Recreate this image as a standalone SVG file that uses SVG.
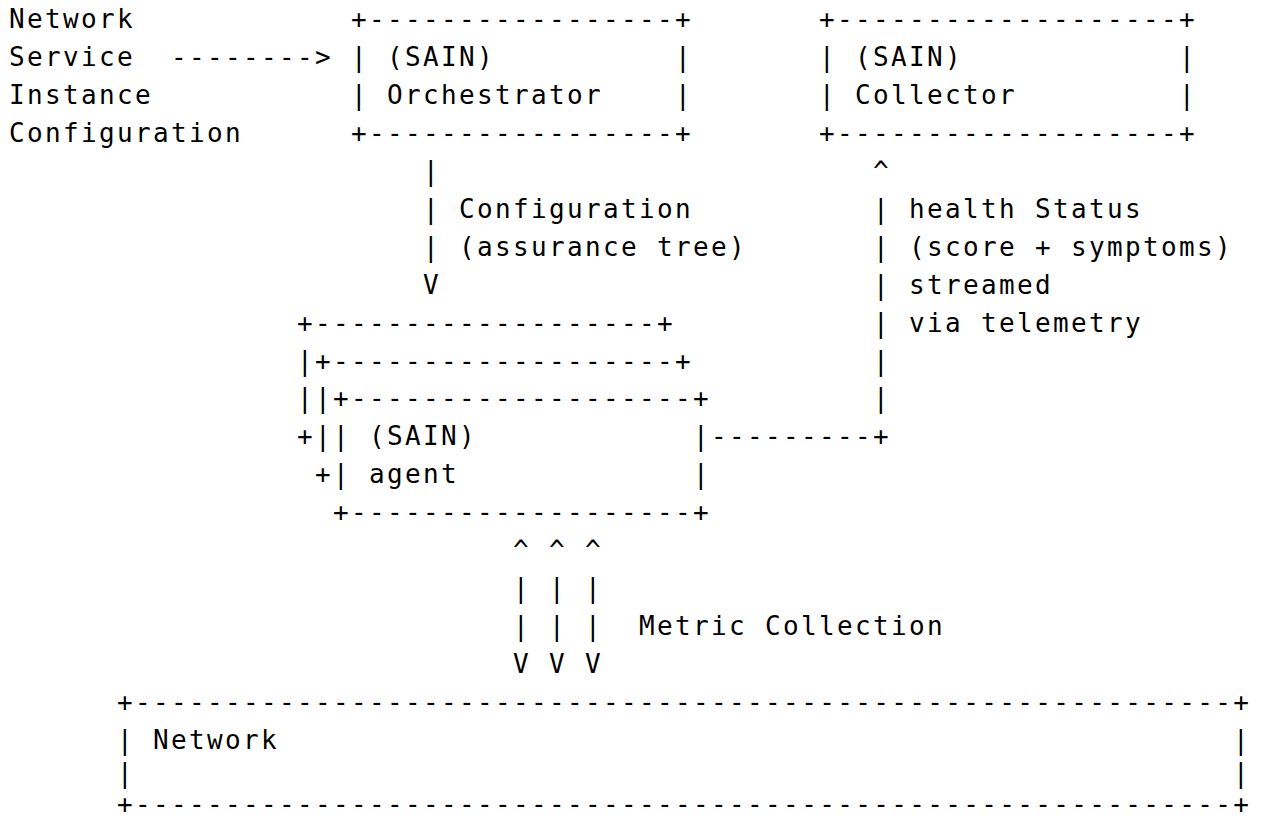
<svg xmlns="http://www.w3.org/2000/svg" width="1261" height="819" viewBox="0 0 1261 819">
<style>
text { font-family: "DejaVu Sans Mono", "Liberation Mono", monospace; font-size: 26px; letter-spacing: 2.35px; fill: #000; white-space: pre; }
</style>
<rect x="0" y="0" width="1261" height="819" fill="#fff"/>
<g transform="translate(1,0)">
<g id="service-config-input">
  <text x="8" y="28.4">Network</text>
  <text x="8" y="66.3">Service</text>
  <text x="8" y="104.2">Instance</text>
  <text x="8" y="142.1">Configuration</text>
</g>
<g id="orchestrator">
  <text x="350" y="28.4">+-----------------+</text>
  <text x="350" y="66.3">|</text><text x="386" y="66.3">(SAIN)</text><text x="674" y="66.3">|</text>
  <text x="350" y="104.2">|</text><text x="386" y="104.2">Orchestrator</text><text x="674" y="104.2">|</text>
  <text x="350" y="142.1">+-----------------+</text>
</g>
<g id="collector">
  <text x="818" y="28.4">+-------------------+</text>
  <text x="818" y="66.3">|</text><text x="854" y="66.3">(SAIN)</text><text x="1178" y="66.3">|</text>
  <text x="818" y="104.2">|</text><text x="854" y="104.2">Collector</text><text x="1178" y="104.2">|</text>
  <text x="818" y="142.1">+-------------------+</text>
</g>
<g id="agent">
  <text x="296" y="331.6">+-------------------+</text>
  <text x="296" y="369.5">|+-------------------+</text>
  <text x="296" y="407.4">||+-------------------+</text>
  <text x="296" y="445.3">+||</text><text x="368" y="445.3">(SAIN)</text><text x="692" y="445.3">|</text>
  <text x="314" y="483.2">+|</text><text x="368" y="483.2">agent</text><text x="692" y="483.2">|</text>
  <text x="332" y="521.1">+-------------------+</text>
</g>
<g id="network">
  <text x="116" y="710.6">+-------------------------------------------------------------+</text>
  <text x="116" y="748.5">|</text><text x="152" y="748.5">Network</text><text x="1232" y="748.5">|</text>
  <text x="116" y="782">|</text><text x="1232" y="782">|</text>
  <text x="116" y="812.5">+-------------------------------------------------------------+</text>
</g>
<g id="connectors">
  <g id="input-to-orchestrator">
    <text x="170" y="66.3">--------&gt;</text>
  </g>
  <g id="orchestrator-to-agent">
    <text x="422" y="180">|</text>
    <text x="422" y="217.9">|</text><text x="458" y="217.9">Configuration</text>
    <text x="422" y="255.8">|</text><text x="458" y="255.8">(assurance tree)</text>
    <text x="422" y="293.7">V</text>
  </g>
  <g id="agent-to-collector">
    <text x="872" y="180">^</text>
    <text x="872" y="217.9">|</text><text x="908" y="217.9">health Status</text>
    <text x="872" y="255.8">|</text><text x="908" y="255.8">(score + symptoms)</text>
    <text x="872" y="293.7">|</text><text x="908" y="293.7">streamed</text>
    <text x="872" y="331.6">|</text><text x="908" y="331.6">via telemetry</text>
    <text x="872" y="369.5">|</text>
    <text x="872" y="407.4">|</text>
    <text x="710" y="445.3">---------+</text>
  </g>
  <g id="agent-network-metrics">
    <text x="512" y="559">^ ^ ^</text>
    <text x="512" y="596.9">| | |</text>
    <text x="512" y="634.8">| | |</text><text x="638" y="634.8">Metric Collection</text>
    <text x="512" y="672.7">V V V</text>
  </g>
</g>
</g>
</svg>
